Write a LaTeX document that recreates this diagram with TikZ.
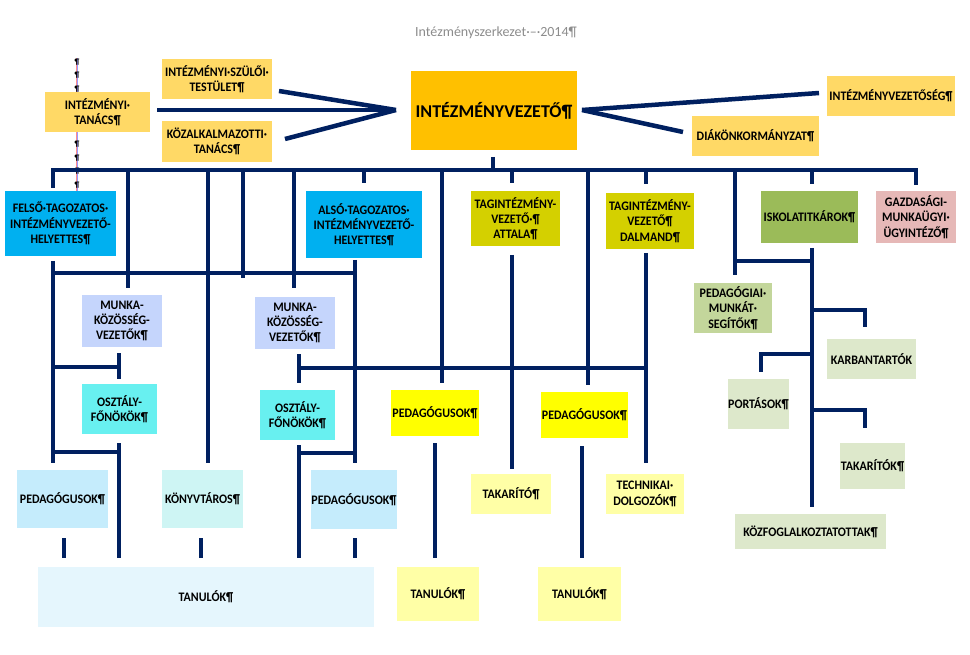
\documentclass[tikz,border=0pt]{standalone}
\usepackage{fontspec}
\setmainfont{Carlito}
\newfontfamily\condfont{Carlito}[FakeStretch=0.92]
\definecolor{navy}{RGB}{0,32,96}
\definecolor{cGold}{RGB}{255,217,102}
\definecolor{cOrange}{RGB}{255,192,0}
\definecolor{cBlue}{RGB}{0,176,240}
\definecolor{cOlive}{RGB}{212,208,0}
\definecolor{cGreen}{RGB}{155,187,89}
\definecolor{cPink}{RGB}{230,184,183}
\definecolor{cPeri}{RGB}{197,213,252}
\definecolor{cCyan}{RGB}{104,240,240}
\definecolor{cYellow}{RGB}{255,255,0}
\definecolor{cLYellow}{RGB}{255,255,166}
\definecolor{cLBlue}{RGB}{197,236,252}
\definecolor{cLTeal}{RGB}{206,245,244}
\definecolor{cVLBlue}{RGB}{229,246,253}
\definecolor{cSage}{RGB}{195,214,155}
\definecolor{cLSage}{RGB}{221,232,203}
\definecolor{cTitle}{RGB}{140,140,140}
\begin{document}
\begin{tikzpicture}[x=1pt,y=-1pt,
  box/.style={inner sep=0pt, align=center, text=black,
    font=\condfont\bfseries\fontsize{13}{15.3}\selectfont},
  ln/.style={draw=navy, line width=4.5pt},
  pil/.style={inner sep=0pt, font=\bfseries\fontsize{8}{8}\selectfont, text=black}]
\useasboundingbox (0,0) rectangle (970,655);

% title
\node[inner sep=0pt, text=cTitle, font=\fontsize{14}{16}\selectfont] (title) at (496,33) {Intézményszerkezet·–·2014¶};

% formatting-mark column
\draw[red!45, line width=0.5pt] (76.4,58) -- (76.4,192);
\draw[blue!40, line width=0.5pt] (77.6,58) -- (77.6,192);
\foreach \yy [count=\i] in {62,75,89,144,158,171,185}
  \node[pil] (p\i) at (77,\yy) {¶};

% top row
\node[box, fill=cGold, minimum width=105pt, minimum height=40pt] (tanacs) at (97.5,112) {INTÉZMÉNYI·\\TANÁCS¶};
\node[box, fill=cGold, minimum width=110pt, minimum height=40pt] (szuloi) at (217,79) {INTÉZMÉNYI·SZÜLŐI·\\TESTÜLET¶};
\node[box, fill=cGold, minimum width=110pt, minimum height=41pt] (kozalk) at (217,141.5) {KÖZALKALMAZOTTI·\\TANÁCS¶};
\node[box, fill=cOrange, minimum width=166pt, minimum height=79pt, font=\bfseries\fontsize{18}{20}\selectfont] (vezeto) at (494,110.5) {INTÉZMÉNYVEZETŐ¶};
\node[box, fill=cGold, minimum width=128pt, minimum height=40pt] (vezetoseg) at (891,96) {INTÉZMÉNYVEZETŐSÉG¶};
\node[box, fill=cGold, minimum width=127pt, minimum height=40pt] (diak) at (755.5,136) {DIÁKÖNKORMÁNYZAT¶};

% second row
\node[box, fill=cBlue, minimum width=111pt, minimum height=65pt] (felso) at (60.5,223.5) {FELSŐ·TAGOZATOS·\\INTÉZMÉNYVEZETŐ-\\HELYETTES¶};
\node[box, fill=cBlue, minimum width=116pt, minimum height=67pt] (also) at (364,224.5) {ALSÓ·TAGOZATOS·\\INTÉZMÉNYVEZETŐ-\\HELYETTES¶};
\node[box, fill=cOlive, minimum width=89pt, minimum height=55pt] (attala) at (515.5,218.5) {TAGINTÉZMÉNY-\\VEZETŐ·¶\\ATTALA¶};
\node[box, fill=cOlive, minimum width=88pt, minimum height=56pt] (dalmand) at (650,221) {TAGINTÉZMÉNY-\\VEZETŐ¶\\DALMAND¶};
\node[box, fill=cGreen, minimum width=97pt, minimum height=52pt] (titkar) at (809.5,217) {ISKOLATITKÁROK¶};
\node[box, fill=cPink, minimum width=80pt, minimum height=52pt] (gazd) at (916,217) {GAZDASÁGI-\\MUNKAÜGYI·\\ÜGYINTÉZŐ¶};

% middle
\node[box, fill=cPeri, minimum width=80pt, minimum height=52pt] (munka1) at (122,321) {MUNKA-\\KÖZÖSSÉG-\\VEZETŐK¶};
\node[box, fill=cPeri, minimum width=80pt, minimum height=52pt] (munka2) at (295,323) {MUNKA-\\KÖZÖSSÉG-\\VEZETŐK¶};
\node[box, fill=cCyan, minimum width=75pt, minimum height=50pt] (oszt1) at (119.5,409) {OSZTÁLY-\\FŐNÖKÖK¶};
\node[box, fill=cCyan, minimum width=75pt, minimum height=50pt] (oszt2) at (297.5,415) {OSZTÁLY-\\FŐNÖKÖK¶};
\node[box, fill=cYellow, minimum width=88pt, minimum height=46pt] (pedY1) at (435,413) {PEDAGÓGUSOK¶};
\node[box, fill=cYellow, minimum width=87pt, minimum height=46pt] (pedY2) at (584.5,415) {PEDAGÓGUSOK¶};
\node[box, fill=cLYellow, minimum width=80pt, minimum height=40pt] (takarito) at (511,494) {TAKARÍTÓ¶};
\node[box, fill=cLYellow, minimum width=78pt, minimum height=40pt] (technikai) at (645,494) {TECHNIKAI·\\DOLGOZÓK¶};

% bottom
\node[box, fill=cLBlue, minimum width=91pt, minimum height=58pt] (pedL) at (62.5,499) {PEDAGÓGUSOK¶};
\node[box, fill=cLTeal, minimum width=81pt, minimum height=58pt] (konyv) at (202.5,499) {KÖNYVTÁROS¶};
\node[box, fill=cLBlue, minimum width=86pt, minimum height=59pt] (pedR) at (354,499.5) {PEDAGÓGUSOK¶};
\node[box, fill=cVLBlue, minimum width=336pt, minimum height=60pt] (tan1) at (206,597) {TANULÓK¶};
\node[box, fill=cLYellow, minimum width=82pt, minimum height=54pt] (tan2) at (438,594) {TANULÓK¶};
\node[box, fill=cLYellow, minimum width=83pt, minimum height=54pt] (tan3) at (579.5,594) {TANULÓK¶};

% right column
\node[box, fill=cSage, minimum width=78pt, minimum height=50pt] (pedseg) at (733,308) {PEDAGÓGIAI·\\MUNKÁT·\\SEGÍTŐK¶};
\node[box, fill=cLSage, minimum width=89pt, minimum height=40pt] (karban) at (871.5,359) {KARBANTARTÓK};
\node[box, fill=cLSage, minimum width=61pt, minimum height=50pt] (portas) at (758.5,404) {PORTÁSOK¶};
\node[box, fill=cLSage, minimum width=65pt, minimum height=46pt] (takaritok) at (872.5,466) {TAKARÍTÓK¶};
\node[box, fill=cLSage, minimum width=151pt, minimum height=35pt] (kozfogl) at (810.5,531.5) {KÖZFOGLALKOZTATOTTAK¶};

% ---- connectors ----
\coordinate (apexL) at (396,110);
\coordinate (apexR) at (582,110);
\draw[ln] (157,110) -- (apexL);
\draw[ln] (279,91) -- (apexL);
\draw[ln] (285,139) -- (apexL);
\draw[ln] (apexR) -- (819,93);
\draw[ln] (apexR) -- (683,132);

% main bus
\draw[ln] (53,188) -- (53,170) -- (916,170) -- (916,185);
\draw[ln] (493,157) -- (493,170);
\foreach \xx/\yy in {128/288, 208/463, 243/278, 294/288, 364/183, 442/383, 512/183, 588/385, 646/184, 735/275, 812/184}
  \draw[ln] (\xx,170) -- (\xx,\yy);

% left group
\draw[ln] (53,261) -- (53,463);
\draw[ln] (53,273) -- (355,273);
\draw[ln] (355,260) -- (355,463);
\draw[ln] (119,353) -- (119,379);
\draw[ln] (53,367) -- (119,367);
\draw[ln] (119,443) -- (119,558);
\draw[ln] (53,452) -- (119,452);

% right group
\draw[ln] (299,354) -- (299,383);
\draw[ln] (299,368) -- (647,368);
\draw[ln] (299,445) -- (299,558);
\draw[ln] (299,453) -- (355,453);
\draw[ln] (512,255) -- (512,469);
\draw[ln] (646,253) -- (646,463);
\draw[ln] (435,443) -- (435,558);
\draw[ln] (582,446) -- (582,558);

% bottom stubs
\foreach \xx in {64,201,355}
  \draw[ln] (\xx,538) -- (\xx,558);

% right column
\draw[ln] (735,261) -- (812,261);
\draw[ln] (812,248) -- (812,507);
\draw[ln] (812,310) -- (865,310) -- (865,327);
\draw[ln] (812,354) -- (761,354) -- (761,372);
\draw[ln] (812,410) -- (865,410) -- (865,428);
\end{tikzpicture}
\end{document}
